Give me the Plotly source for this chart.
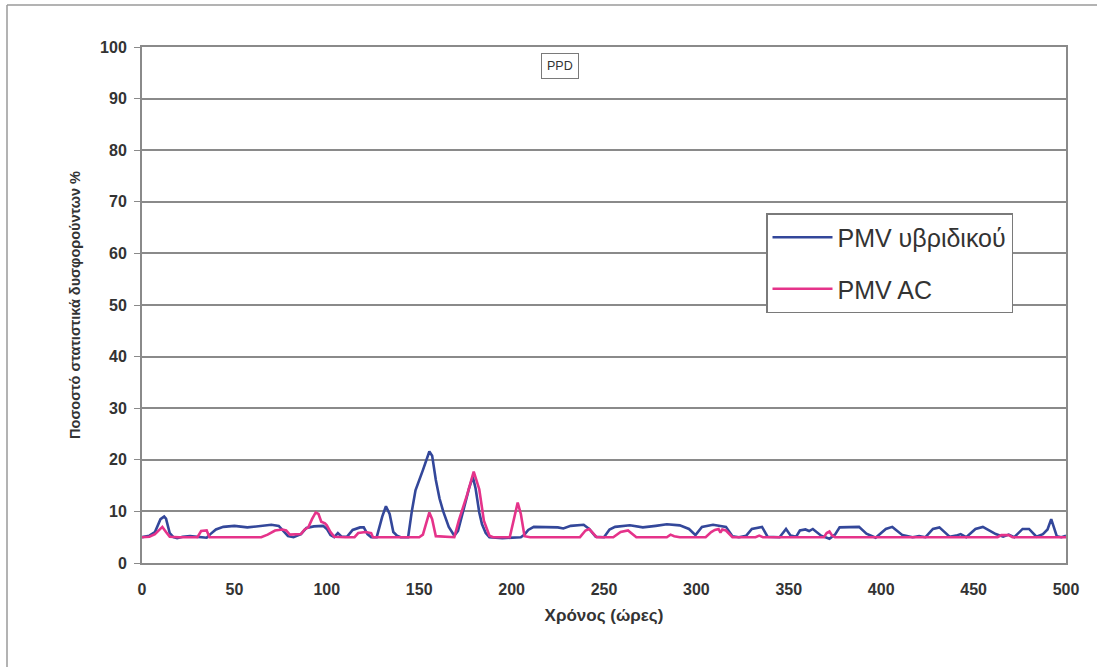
import plotly.graph_objects as go

# PPD time series (hours vs. percentage of dissatisfied occupants)
hrs_hybrid = [0, 4, 7, 10, 12, 13, 15, 17, 19, 22, 26, 30, 33, 35, 37, 40, 44, 50, 57, 63,
              70, 74, 77, 79, 82, 86, 89, 93, 98, 100, 102, 104, 106, 108, 111, 114, 118, 120, 122, 124,
              127, 130, 132, 134, 136, 138, 140, 144, 146, 148, 152, 155.5, 157, 159, 161, 163, 166, 169, 171, 174,
              177, 179, 180.5, 182.5, 184, 186, 188, 195, 200, 205, 207, 209, 212, 220, 225, 228, 232, 239, 242, 245.5,
              250, 253, 256, 264, 271, 278, 284, 291, 296, 299.5, 303, 309, 314, 316, 319.5, 323, 327, 330, 335.5, 338.5,
              345, 348.5, 351, 354, 356, 359, 361, 363, 367.5, 372, 375, 377.5, 388, 392, 397, 402.5, 406, 411.5, 417, 420.5,
              424, 428, 431.5, 437, 440.5, 443, 446, 451, 455, 462, 466, 469, 472, 476.5, 480, 484, 487.5, 490, 492, 494,
              495, 497.5, 500]
ppd_hybrid = [5.0, 5.3, 6.0, 8.5, 9.0, 8.6, 5.8, 5.0, 4.8, 5.1, 5.2, 5.1, 5.0, 4.9, 5.6, 6.5, 7.0, 7.2, 6.9, 7.1,
              7.4, 7.2, 6.0, 5.2, 5.0, 5.6, 6.8, 7.1, 7.2, 6.6, 5.4, 5.0, 5.8, 5.1, 5.1, 6.4, 6.9, 6.9, 5.6, 5.0,
              5.0, 9.0, 11.0, 9.5, 6.0, 5.3, 5.0, 5.0, 10.0, 14.1, 18.0, 21.6, 20.8, 16.1, 12.5, 10.0, 7.0, 5.3, 6.2, 10.5,
              14.5, 16.7, 14.5, 9.8, 7.5, 5.8, 5.0, 4.8, 4.9, 5.0, 5.5, 6.4, 7.0, 7.0, 6.9, 6.7, 7.2, 7.4, 6.6, 5.1,
              5.0, 6.5, 7.0, 7.3, 6.9, 7.2, 7.5, 7.3, 6.6, 5.4, 7.0, 7.4, 7.2, 7.0, 5.2, 5.0, 5.3, 6.6, 7.0, 5.1,
              5.0, 6.6, 5.3, 5.1, 6.3, 6.5, 6.2, 6.6, 5.3, 4.7, 5.5, 6.9, 7.0, 5.7, 4.9, 6.6, 7.0, 5.4, 5.0, 5.2,
              5.0, 6.6, 6.9, 5.1, 5.3, 5.6, 5.0, 6.6, 7.0, 5.6, 5.1, 5.5, 5.0, 6.6, 6.6, 5.1, 5.6, 6.5, 8.5, 6.0,
              5.2, 5.0, 5.3]

hrs_ac = [0, 4, 7, 10, 11, 13, 15, 20, 30, 32, 35, 36.5, 50, 64.5, 68, 72, 76, 78, 80, 83,
          86, 88, 90, 92, 94, 95.5, 97, 99, 100, 102, 104, 110, 115, 117, 121, 124, 125, 140, 150, 152,
          155.5, 157, 159, 169, 171.5, 176, 179.5, 182.5, 185, 188, 190, 199, 201, 203.3, 205, 207, 210, 237, 240, 242,
          244, 246, 255, 259, 263, 267.5, 284, 286, 288, 291, 305, 308, 310, 312, 313, 314, 316, 319.5, 332, 334,
          336, 369, 370.5, 372, 373.5, 375, 463, 465, 469, 471, 500]
ppd_ac = [5.0, 5.1, 5.6, 6.8, 7.0, 6.0, 5.1, 5.0, 5.0, 6.2, 6.3, 5.0, 5.0, 5.0, 5.5, 6.3, 6.5, 6.3, 5.5, 5.6,
          5.6, 6.5, 6.9, 8.5, 9.8, 9.5, 8.0, 7.7, 7.3, 6.0, 5.1, 5.0, 5.0, 5.8, 6.0, 5.8, 5.0, 5.0, 5.0, 5.5,
          9.8, 8.5, 5.2, 5.0, 8.3, 13.3, 17.7, 14.3, 8.2, 5.3, 5.0, 5.0, 8.0, 11.7, 9.5, 5.2, 5.0, 5.0, 6.3, 6.6,
          5.8, 5.0, 5.0, 6.0, 6.3, 5.0, 5.0, 5.5, 5.2, 5.0, 5.0, 6.0, 6.4, 6.6, 5.9, 6.5, 6.3, 5.0, 5.0, 5.3,
          5.0, 5.0, 5.8, 6.1, 5.3, 5.0, 5.0, 5.4, 5.4, 5.0, 5.0]

x_ticks = [0, 50, 100, 150, 200, 250, 300, 350, 400, 450, 500]
y_ticks = [0, 10, 20, 30, 40, 50, 60, 70, 80, 90, 100]

BLUE = "#33479a"
PINK = "#e5338a"
GRID = "#8a8a8a"
TEXT = "#333333"
FONT = "Liberation Sans, Arial, sans-serif"

# plot area in pixels (for placing paper-referenced decorations)
L, R, T, B = 142, 1066, 47, 563
W, H = R - L, B - T


def px(x):
    return (x - L) / W


def py(y):
    return (B - y) / H


fig = go.Figure()
fig.add_trace(go.Scatter(x=hrs_hybrid, y=ppd_hybrid, mode="lines", name="PMV υβριδικού",
                         legendgroup="a", line=dict(color=BLUE, width=2.6)))
fig.add_trace(go.Scatter(x=hrs_ac, y=ppd_ac, mode="lines", name="PMV AC",
                         legendgroup="b", line=dict(color=PINK, width=2.6)))

# outer chart frame: left and top edges
fig.add_shape(type="line", xref="paper", yref="paper", x0=px(7), x1=px(7), y0=py(667), y1=py(5),
              line=dict(color="#9a9a9a", width=1.5))
fig.add_shape(type="line", xref="paper", yref="paper", x0=px(7), x1=px(1097), y0=py(5), y1=py(5),
              line=dict(color="#9a9a9a", width=1.5))

# small boxed label at the top of the plot
fig.add_annotation(text="PPD", xref="paper", yref="paper", x=px(560), y=py(66),
                   xanchor="center", yanchor="middle", showarrow=False,
                   font=dict(family=FONT, size=12.5, color=TEXT),
                   bordercolor="#7a7a7a", borderwidth=1, borderpad=5, bgcolor="white")

fig.update_layout(
    width=1097, height=667,
    margin=dict(l=L, r=1097 - R, t=T, b=667 - B),
    paper_bgcolor="white", plot_bgcolor="white",
    font=dict(family=FONT, color=TEXT),
    showlegend=True,
    legend=dict(x=px(766), y=py(213), xanchor="left", yanchor="top",
                bgcolor="white", bordercolor="#7a7a7a", borderwidth=1.5,
                font=dict(family=FONT, size=25, color=TEXT),
                tracegroupgap=16, itemwidth=60),
    xaxis=dict(range=[0, 500], tickvals=x_ticks, showgrid=False, zeroline=False,
               showline=True, linecolor=GRID, linewidth=2, mirror=True, ticks="",
               ticklabelstandoff=11,
               tickfont=dict(family=FONT, size=16, color=TEXT, weight="bold"),
               title=dict(text="Χρόνος (ώρες)", standoff=12,
                          font=dict(family=FONT, size=17, color=TEXT, weight="bold"))),
    yaxis=dict(range=[0, 100], tickvals=y_ticks, showgrid=True, gridcolor=GRID, gridwidth=1.5,
               zeroline=False, showline=True, linecolor=GRID, linewidth=2, mirror=True,
               ticks="outside", ticklen=6, tickcolor=GRID, ticklabelstandoff=4,
               tickfont=dict(family=FONT, size=16, color=TEXT, weight="bold"),
               title=dict(text="Ποσοστό στατιστικά δυσφορούντων %", standoff=16,
                          font=dict(family=FONT, size=14.5, color=TEXT, weight="bold"))),
)

fig.write_html("out.html")
